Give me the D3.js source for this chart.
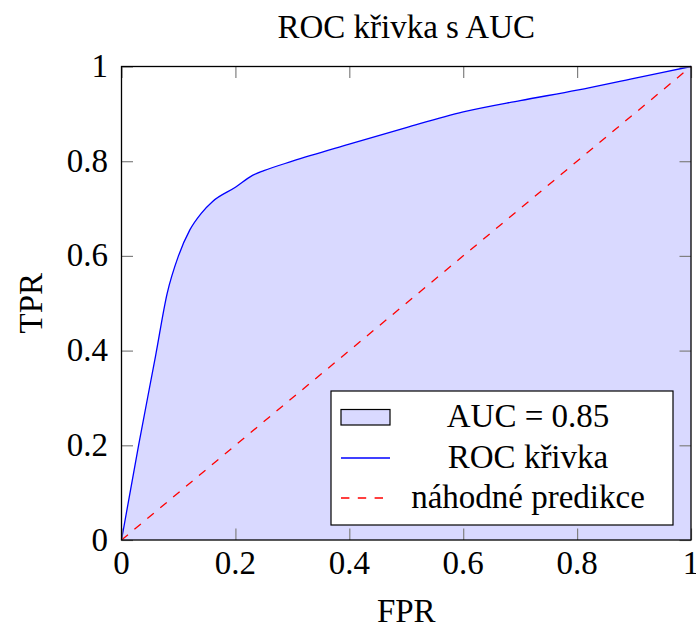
<!DOCTYPE html>
<html>
<head>
<meta charset="utf-8">
<script src="https://cdn.jsdelivr.net/npm/d3@7"></script>
<style>
  body { margin: 0; background: #fff; }
  text { font-family: "Liberation Serif", "DejaVu Serif", serif; fill: #000; }
</style>
</head>
<body>
<script>
// body ROC krivky
var fpr = [0, 0.03, 0.06, 0.08, 0.1, 0.12, 0.14, 0.16, 0.2, 0.23, 0.25, 0.3, 0.4, 0.5, 0.6, 0.7, 0.8, 0.9, 1];
var tpr = [0, 0.2, 0.39, 0.52, 0.6, 0.655, 0.69, 0.715, 0.745, 0.77, 0.78, 0.8, 0.836, 0.871, 0.904, 0.928, 0.95, 0.975, 1];
// diagonala nahodne predikce
var randomX = [0, 1];
var randomY = [0, 1];
var ticks = [0, 0.2, 0.4, 0.6, 0.8, 1];
var tickLabels = ["0", "0.2", "0.4", "0.6", "0.8", "1"];
var auc = 0.85;
var legendLabels = ["AUC = " + auc, "ROC křivka", "náhodné predikce"];

var width = 696, height = 625;
var plotLeft = 121.5, plotRight = 691, plotTop = 66.5, plotBottom = 540;
var fontSize = "33px";

var svg = d3.select("body").append("svg")
  .attr("width", width)
  .attr("height", height);

var x = d3.scaleLinear().domain([0, 1]).range([plotLeft, plotRight]);
var y = d3.scaleLinear().domain([0, 1]).range([plotBottom, plotTop]);

var points = fpr.map(function(d, i) { return [d, tpr[i]]; });

// plocha pod krivkou
var area = d3.area()
  .x(function(d) { return x(d[0]); })
  .y0(y(0))
  .y1(function(d) { return y(d[1]); })
  .curve(d3.curveMonotoneX);

svg.append("path")
  .datum(points)
  .attr("d", area)
  .attr("fill", "#d9d9ff");

var line = d3.line()
  .x(function(d) { return x(d[0]); })
  .y(function(d) { return y(d[1]); })
  .curve(d3.curveMonotoneX);

svg.append("path")
  .datum(points)
  .attr("d", line)
  .attr("fill", "none")
  .attr("stroke", "#0000ff")
  .attr("stroke-width", 1.3);

svg.append("path")
  .datum(randomX.map(function(d, i) { return [d, randomY[i]]; }))
  .attr("d", d3.line().x(function(d) { return x(d[0]); }).y(function(d) { return y(d[1]); }))
  .attr("fill", "none")
  .attr("stroke", "#ff0000")
  .attr("stroke-width", 1.3)
  .attr("stroke-dasharray", "8.4,8.4");

// osy - ticky dovnitr na vsech ctyrech stranach
var tickLen = 11.5;
function fmt(d) { return tickLabels[ticks.indexOf(d)]; }

svg.append("g").attr("transform", "translate(0," + plotBottom + ")")
  .call(d3.axisTop(x).tickValues(ticks).tickSize(tickLen).tickFormat(""));
svg.append("g").attr("transform", "translate(0," + plotTop + ")")
  .call(d3.axisBottom(x).tickValues(ticks).tickSize(tickLen).tickFormat(""));
svg.append("g").attr("transform", "translate(" + plotLeft + ",0)")
  .call(d3.axisRight(y).tickValues(ticks).tickSize(tickLen).tickFormat(""));
svg.append("g").attr("transform", "translate(" + plotRight + ",0)")
  .call(d3.axisLeft(y).tickValues(ticks).tickSize(tickLen).tickFormat(""));

svg.selectAll(".domain").remove();
svg.selectAll(".tick line").attr("stroke", "#808080").attr("stroke-width", 1.2);

svg.append("rect")
  .attr("x", plotLeft).attr("y", plotTop)
  .attr("width", plotRight - plotLeft).attr("height", plotBottom - plotTop)
  .attr("fill", "none")
  .attr("stroke", "#000")
  .attr("stroke-width", 1.3);

// popisky ticku
svg.selectAll(".xlab")
  .data(ticks)
  .enter()
  .append("text")
  .attr("class", "xlab")
  .attr("x", function(d) { return x(d); })
  .attr("y", 574)
  .attr("text-anchor", "middle")
  .style("font-size", fontSize)
  .text(fmt);

svg.selectAll(".ylab")
  .data(ticks)
  .enter()
  .append("text")
  .attr("class", "ylab")
  .attr("x", 108)
  .attr("y", function(d) { return y(d) + 10.5; })
  .attr("text-anchor", "end")
  .style("font-size", fontSize)
  .text(fmt);

svg.append("text")
  .attr("x", (plotLeft + plotRight) / 2)
  .attr("y", 37.5)
  .attr("text-anchor", "middle")
  .style("font-size", fontSize)
  .text("ROC křivka s AUC");

svg.append("text")
  .attr("x", (plotLeft + plotRight) / 2)
  .attr("y", 621.5)
  .attr("text-anchor", "middle")
  .style("font-size", fontSize)
  .text("FPR");

svg.append("text")
  .attr("transform", "translate(41.5," + (plotTop + plotBottom) / 2 + ") rotate(-90)")
  .attr("text-anchor", "middle")
  .style("font-size", fontSize)
  .text("TPR");

// legenda
var legend = svg.append("g");
legend.append("rect")
  .attr("x", 331).attr("y", 391)
  .attr("width", 342).attr("height", 134)
  .attr("fill", "#fff")
  .attr("stroke", "#000")
  .attr("stroke-width", 1.2);

legend.append("rect")
  .attr("x", 341).attr("y", 409.5)
  .attr("width", 49).attr("height", 15.5)
  .attr("fill", "#d9d9ff")
  .attr("stroke", "#000")
  .attr("stroke-width", 1.2);

legend.append("line")
  .attr("x1", 341).attr("x2", 390)
  .attr("y1", 458).attr("y2", 458)
  .attr("stroke", "#0000ff")
  .attr("stroke-width", 1.3);

legend.append("line")
  .attr("x1", 341).attr("x2", 390)
  .attr("y1", 498).attr("y2", 498)
  .attr("stroke", "#ff0000")
  .attr("stroke-width", 1.3)
  .attr("stroke-dasharray", "8.4,8.4");

legend.selectAll(".legtext")
  .data(legendLabels)
  .enter()
  .append("text")
  .attr("class", "legtext")
  .attr("x", 528)
  .attr("y", function(d, i) { return 427 + i * 40.5; })
  .attr("text-anchor", "middle")
  .style("font-size", fontSize)
  .text(function(d) { return d; });
</script>
</body>
</html>
